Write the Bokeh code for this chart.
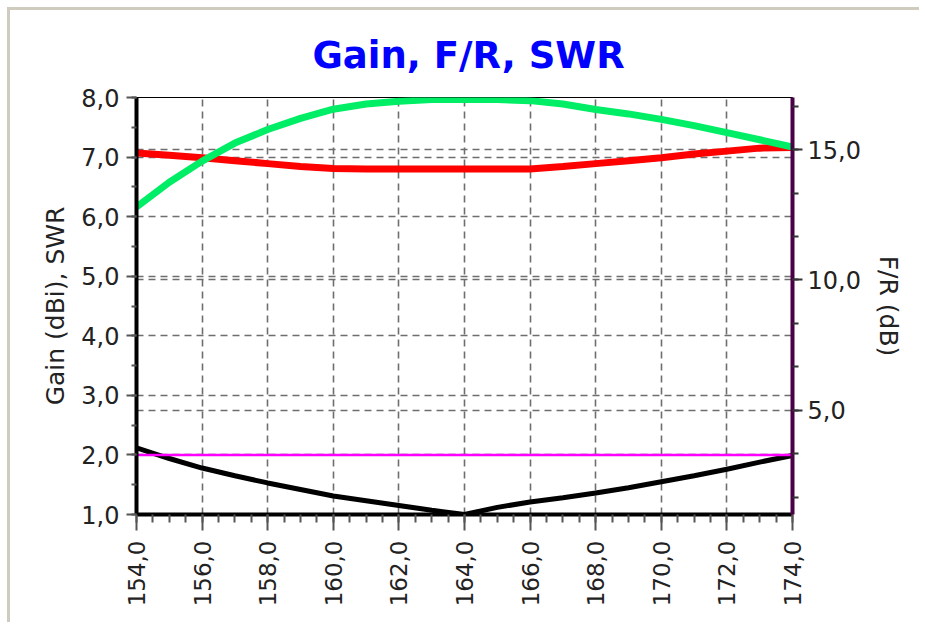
import math
from bokeh.plotting import figure
from bokeh.models import (Range1d, LinearAxis, SingleIntervalTicker,
                          CustomJSTickFormatter, Grid)
from bokeh.embed import file_html
from bokeh.resources import INLINE

# ---- data ----
freq = [154, 155, 156, 157, 158, 159, 160, 161, 162, 163, 164,
        165, 166, 167, 168, 169, 170, 171, 172, 173, 174]
gain_dbi = [7.07, 7.03, 6.99, 6.94, 6.89, 6.84, 6.81, 6.80, 6.80, 6.80, 6.80,
            6.80, 6.80, 6.84, 6.89, 6.94, 6.99, 7.05, 7.10, 7.15, 7.16]
fr_db = [12.8, 13.75, 14.56, 15.25, 15.77, 16.2, 16.55, 16.75, 16.86, 16.92, 16.93,
         16.92, 16.88, 16.75, 16.54, 16.37, 16.16, 15.92, 15.65, 15.38, 15.1]
swr = [2.12, 1.94, 1.78, 1.65, 1.53, 1.42, 1.31, 1.23, 1.15, 1.07, 1.00,
       1.12, 1.21, 1.28, 1.36, 1.45, 1.55, 1.65, 1.76, 1.88, 1.99]
swr_limit = 2.0

x_lo, x_hi = 154, 174
left_lo, left_hi = 1, 8
right_lo, right_hi = 1, 17

title_text = "Gain, F/R, SWR"
left_label = "Gain (dBi), SWR"
right_label = "F/R (dB)"

FONT = "DejaVu Sans"
fmt = CustomJSTickFormatter(code="return tick.toFixed(1).replace('.', ',');")

p = figure(width=912, height=615, output_backend="svg", toolbar_location=None,
           x_range=Range1d(x_lo, x_hi), y_range=Range1d(left_lo, left_hi),
           min_border_left=126, min_border_right=130,
           min_border_top=87, min_border_bottom=111)
p.extra_y_ranges = {"fr": Range1d(right_lo, right_hi)}
p.margin = (7, 0, 0, 7)
p.styles = {"border-left": "3px solid #cfcbbf", "border-top": "3px solid #cfcbbf"}

p.background_fill_color = "white"
p.border_fill_color = "white"
p.outline_line_color = "black"
p.outline_line_width = 1

# title
p.title.text = title_text
p.title.text_color = "#0000ff"
p.title.text_font = FONT
p.title.text_font_size = "37px"
p.title.text_font_style = "bold"
p.title.align = "left"
p.title.offset = 176
p.title.standoff = 41

# bottom axis
xt = SingleIntervalTicker(interval=2, num_minor_ticks=4)
xa = p.xaxis[0]
xa.ticker = xt
xa.formatter = fmt
xa.major_label_orientation = math.pi / 2
xa.axis_line_color = "black"
xa.axis_line_width = 4
xa.major_tick_line_color = "#555555"
xa.major_tick_line_width = 2
xa.major_tick_out = 16
xa.major_tick_in = 0
xa.minor_tick_line_color = "#555555"
xa.minor_tick_line_width = 2
xa.minor_tick_out = 8
xa.minor_tick_in = 0
xa.major_label_standoff = 10
xa.major_label_text_font = FONT
xa.major_label_text_font_size = "23px"
xa.major_label_text_color = "#222222"

# left axis
yt = SingleIntervalTicker(interval=1, num_minor_ticks=2)
ya = p.yaxis[0]
ya.ticker = yt
ya.formatter = fmt
ya.axis_label = left_label
ya.axis_label_text_font = FONT
ya.axis_label_text_font_size = "25px"
ya.axis_label_text_font_style = "normal"
ya.axis_label_text_color = "#222222"
ya.axis_label_standoff = 8
ya.axis_line_color = "black"
ya.axis_line_width = 4
ya.major_tick_line_color = "#555555"
ya.major_tick_line_width = 2
ya.major_tick_out = 10
ya.major_tick_in = 0
ya.minor_tick_line_color = "#555555"
ya.minor_tick_line_width = 2
ya.minor_tick_out = 5
ya.minor_tick_in = 0
ya.major_label_standoff = 7
ya.major_label_text_font = FONT
ya.major_label_text_font_size = "24px"
ya.major_label_text_color = "#222222"

# right axis
rt = SingleIntervalTicker(interval=5, num_minor_ticks=3)
ra = LinearAxis(y_range_name="fr", ticker=rt, formatter=fmt)
ra.axis_label = right_label
ra.axis_label_text_font = FONT
ra.axis_label_text_font_size = "25px"
ra.axis_label_text_font_style = "normal"
ra.axis_label_text_color = "#222222"
ra.axis_label_standoff = 10
ra.axis_line_color = "#4a0046"
ra.axis_line_width = 4
ra.major_tick_line_color = "#333333"
ra.major_tick_line_width = 2
ra.major_tick_out = 10
ra.major_tick_in = 0
ra.minor_tick_line_color = "#333333"
ra.minor_tick_line_width = 2
ra.minor_tick_out = 6
ra.minor_tick_in = 0
ra.major_label_standoff = 5
ra.major_label_text_font = FONT
ra.major_label_text_font_size = "24px"
ra.major_label_text_color = "#222222"
p.add_layout(ra, "right")

# grids
GRID_COLOR = "#6e6e6e"
GRID_DASH = "7 5"
p.xgrid.ticker = xt
p.ygrid.ticker = yt
for g in (p.xgrid[0], p.ygrid[0]):
    g.grid_line_color = GRID_COLOR
    g.grid_line_dash = GRID_DASH
    g.grid_line_width = 1.6
rg = Grid(dimension=1, ticker=rt, y_range_name="fr",
          grid_line_color=GRID_COLOR, grid_line_dash=GRID_DASH, grid_line_width=1.6)
p.add_layout(rg)

# series
p.line(freq, swr, line_color="black", line_width=5)
p.line([x_lo, x_hi], [swr_limit, swr_limit], line_color="#ff00ff", line_width=2.5)
p.line(freq, gain_dbi, line_color="#ff0000", line_width=7)
p.line(freq, fr_db, line_color="#00ee66", line_width=7, y_range_name="fr")

open("out.html", "w").write(file_html(p, INLINE))
